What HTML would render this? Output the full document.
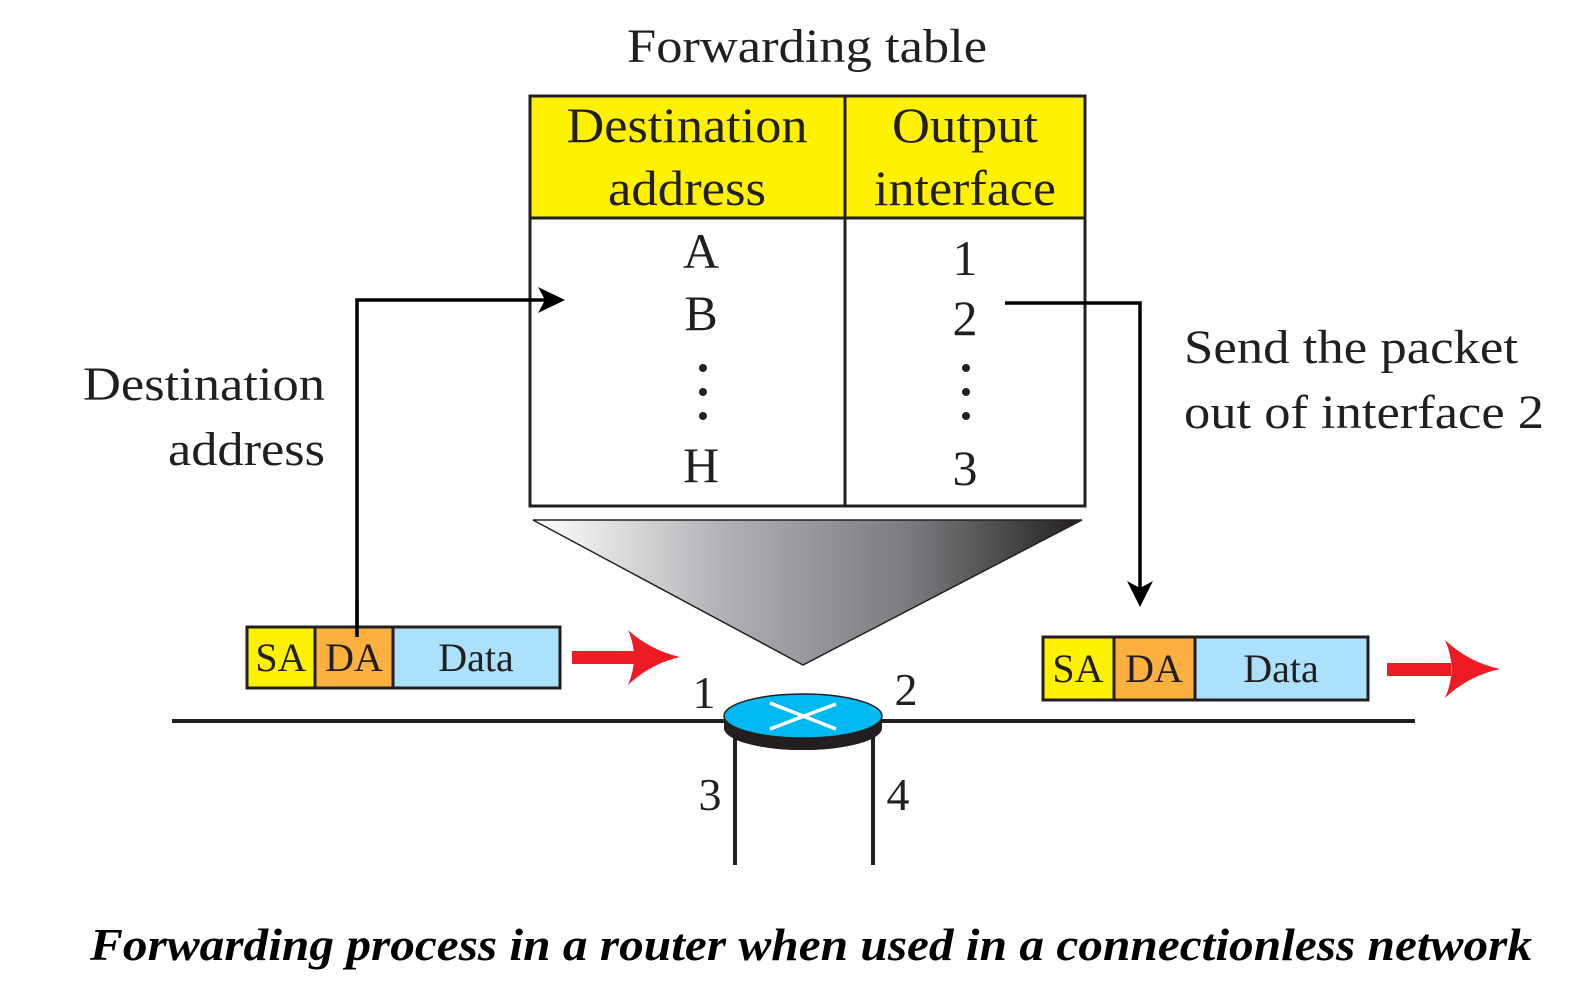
<!DOCTYPE html>
<html><head><meta charset="utf-8"><style>html,body{margin:0;padding:0;background:#fff}svg{display:block}</style></head>
<body>
<svg width="1579" height="1000" viewBox="0 0 1579 1000" xmlns="http://www.w3.org/2000/svg" font-family="'Liberation Serif', serif" fill="#231f20">
<defs>
<linearGradient id="g" x1="0" x2="1" y1="0" y2="0">
<stop offset="0" stop-color="#ffffff"/><stop offset="0.35" stop-color="#b0b1b4"/><stop offset="0.7" stop-color="#77787b"/><stop offset="1" stop-color="#231f20"/>
</linearGradient>
</defs>
<text x="807" y="62" font-size="48" text-anchor="middle" textLength="360" lengthAdjust="spacingAndGlyphs">Forwarding table</text>
<rect x="530" y="96" width="555" height="122" fill="#fff200"/>
<rect x="530" y="96" width="555" height="410" fill="none" stroke="#231f20" stroke-width="3"/>
<line x1="530" y1="218" x2="1085" y2="218" stroke="#231f20" stroke-width="3"/>
<line x1="845" y1="96" x2="845" y2="506" stroke="#231f20" stroke-width="3"/>
<g font-size="50" text-anchor="middle">
<text x="687" y="142" textLength="241" lengthAdjust="spacingAndGlyphs">Destination</text>
<text x="687" y="205" textLength="158" lengthAdjust="spacingAndGlyphs">address</text>
<text x="965" y="142" textLength="146" lengthAdjust="spacingAndGlyphs">Output</text>
<text x="965" y="205" textLength="182" lengthAdjust="spacingAndGlyphs">interface</text>
<text x="701" y="268">A</text>
<text x="701" y="330">B</text>
<text x="701" y="482">H</text>
<text x="965" y="275">1</text>
<text x="965" y="335">2</text>
<text x="965" y="485">3</text>
</g>
<g>
<circle cx="703" cy="368" r="4"/><circle cx="703" cy="392" r="4"/><circle cx="703" cy="416" r="4"/>
<circle cx="966" cy="368" r="4"/><circle cx="966" cy="392" r="4"/><circle cx="966" cy="416" r="4"/>
</g>
<polygon points="533,520 1082,520 803,665" fill="url(#g)" stroke="#231f20" stroke-width="1.5"/>
<!-- arrows -->
<polyline points="357,637 357,300 545,300" fill="none" stroke="#000" stroke-width="3.5"/>
<polygon points="538,287 565,300 538,313 545,300" fill="#000"/>
<polyline points="1005,303 1140,303 1140,588" fill="none" stroke="#000" stroke-width="3.5"/>
<polygon points="1127,581 1140,607 1153,581 1140,588" fill="#000"/>
<text x="325" y="400" font-size="48" text-anchor="end" textLength="242" lengthAdjust="spacingAndGlyphs">Destination</text>
<text x="325" y="465" font-size="48" text-anchor="end" textLength="157" lengthAdjust="spacingAndGlyphs">address</text>
<text x="1184" y="363" font-size="48" textLength="334" lengthAdjust="spacingAndGlyphs">Send the packet</text>
<text x="1184" y="428" font-size="48" textLength="360" lengthAdjust="spacingAndGlyphs">out of interface 2</text>
<!-- packets -->
<g stroke="#231f20" stroke-width="3">
<rect x="247" y="627" width="68" height="61" fill="#fff200"/>
<rect x="315" y="627" width="78" height="61" fill="#fbb040"/>
<rect x="393" y="627" width="167" height="61" fill="#abe1fa"/>
<rect x="1043" y="637" width="71" height="63" fill="#fff200"/>
<rect x="1114" y="637" width="81" height="63" fill="#fbb040"/>
<rect x="1195" y="637" width="173" height="63" fill="#abe1fa"/>
</g>
<line x1="357" y1="600" x2="357" y2="637" stroke="#000" stroke-width="3.5"/>
<g font-size="40" text-anchor="middle">
<text x="281" y="671">SA</text><text x="354" y="671">DA</text><text x="476" y="671">Data</text>
<text x="1078" y="682">SA</text><text x="1154" y="682">DA</text><text x="1281" y="682">Data</text>
</g>
<g fill="#ed1c24">
<rect x="572" y="651" width="62" height="13"/>
<path d="M628,630 Q650,650 680,657 Q650,664 628,685 Q640,657 628,630Z"/>
<rect x="1387" y="663" width="64" height="13"/>
<path d="M1445,640 Q1468,662 1500,669 Q1468,676 1445,698 Q1458,669 1445,640Z"/>
</g>
<!-- network -->
<line x1="172" y1="721" x2="1415" y2="721" stroke="#231f20" stroke-width="4"/>
<line x1="735" y1="735" x2="735" y2="865" stroke="#231f20" stroke-width="4"/>
<line x1="873" y1="735" x2="873" y2="865" stroke="#231f20" stroke-width="4"/>
<path d="M724,716 L724,728 A79,22 0 0 0 882,728 L882,716 Z" fill="#231f20"/>
<ellipse cx="803" cy="728" rx="79" ry="22" fill="#231f20"/>
<ellipse cx="803" cy="716" rx="79" ry="22" fill="#00b9f1" stroke="#231f20" stroke-width="1.5"/>
<line x1="770" y1="729" x2="836" y2="704" stroke="#fff" stroke-width="3.5"/>
<line x1="770" y1="703" x2="836" y2="729" stroke="#fff" stroke-width="3.5"/>
<g font-size="46" text-anchor="middle">
<text x="704" y="708">1</text><text x="906" y="705">2</text>
<text x="710" y="810">3</text><text x="898" y="810">4</text>
</g>
<text x="811" y="960" font-size="46" font-weight="bold" font-style="italic" text-anchor="middle" fill="#000" textLength="1442" lengthAdjust="spacingAndGlyphs">Forwarding process in a router when used in a connectionless network</text>
</svg>
</body></html>
